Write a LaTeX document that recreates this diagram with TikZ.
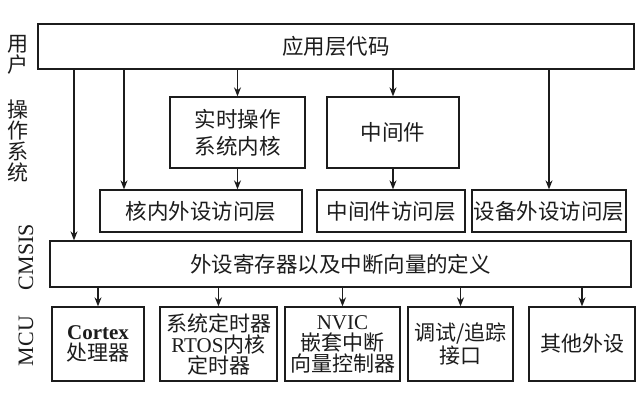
\documentclass[tikz,border=0pt]{standalone}
\usepackage{fontspec}
\setmainfont{Liberation Serif}
\newfontfamily\cjk{Noto Sans CJK SC}
\usetikzlibrary{arrows.meta, positioning, calc}
\definecolor{ink}{HTML}{1C1C1C}
\tikzset{
  blk/.style={draw=ink, line width=1.3pt, align=center, inner sep=0pt, text=ink,
              font=\cjk\fontsize{21.5}{27}\selectfont},
  mcu/.style={blk, minimum height=74pt, font=\cjk\fontsize{21}{21}\selectfont},
  lay/.style={text=ink, align=center, font=\cjk\fontsize{21}{21}\selectfont},
  rlay/.style={text=ink, rotate=90, font=\fontsize{22}{22}\selectfont},
  fl/.style={-{Stealth[length=9pt, width=7pt]}, line width=1.3pt, draw=ink},
}
\begin{document}
\begin{tikzpicture}[x=1pt, y=-1pt]
  \useasboundingbox[fill=white] (0,0) rectangle (641,401);
  \node[blk, minimum width=596pt, minimum height=45pt] (app) at (336,46.5) {应用层代码};
  \node[blk, minimum width=135pt, minimum height=71pt] (rtos) at (237.5,132.5) {实时操作\\系统内核};
  \node[blk, minimum width=132pt, minimum height=71pt] (mid) at (393,132.5) {中间件};
  \node[blk, minimum width=202pt, minimum height=42pt] (kacc) at (201,211) {核内外设访问层};
  \node[blk, minimum width=148pt, minimum height=42pt] (macc) at (391,211) {中间件访问层};
  \node[blk, minimum width=154pt, minimum height=42pt] (dacc) at (549,211) {设备外设访问层};
  \node[blk, minimum width=581pt, minimum height=46pt] (cmsis) at (340.5,264) {外设寄存器以及中断向量的定义};
  \node[mcu, minimum width=92pt] (cortex) at (98,344) {{\rmfamily\bfseries Cortex}\\处理器};
  \node[mcu, minimum width=117pt] (systick) at (218.5,344) {系统定时器\\{\rmfamily RTOS}内核\\定时器};
  \node[mcu, minimum width=115pt] (nvic) at (342.5,344) {{\rmfamily NVIC}\\嵌套中断\\向量控制器};
  \node[mcu, minimum width=105pt] (dbg) at (460.5,344) {调试/追踪\\接口};
  \node[mcu, minimum width=106pt] (oth) at (582,344) {其他外设};

  \node[lay] (user) at (18,55) {用\\户};
  \node[lay] (os) at (18,141) {操\\作\\系\\统};
  \node[rlay] (cm) at (26,257) {CMSIS};
  \node[rlay] (hw) at (26,341) {MCU};

  \coordinate (c1) at (74,0);
  \coordinate (c2) at (124,0);
  \draw[fl] (app.south -| c1) -- (cmsis.north -| c1);
  \draw[fl] (app.south -| c2) -- (kacc.north -| c2);
  \draw[fl] (app.south -| rtos) -- (rtos.north);
  \draw[fl] (app.south -| mid) -- (mid.north);
  \draw[fl] (app.south -| dacc) -- (dacc.north);
  \draw[fl] (rtos.south) -- (rtos.south |- kacc.north);
  \draw[fl] (mid.south) -- (mid.south |- macc.north);
  \foreach \b in {cortex, systick, nvic, dbg, oth}
    \draw[fl] (cmsis.south -| \b) -- (\b.north);
\end{tikzpicture}
\end{document}
